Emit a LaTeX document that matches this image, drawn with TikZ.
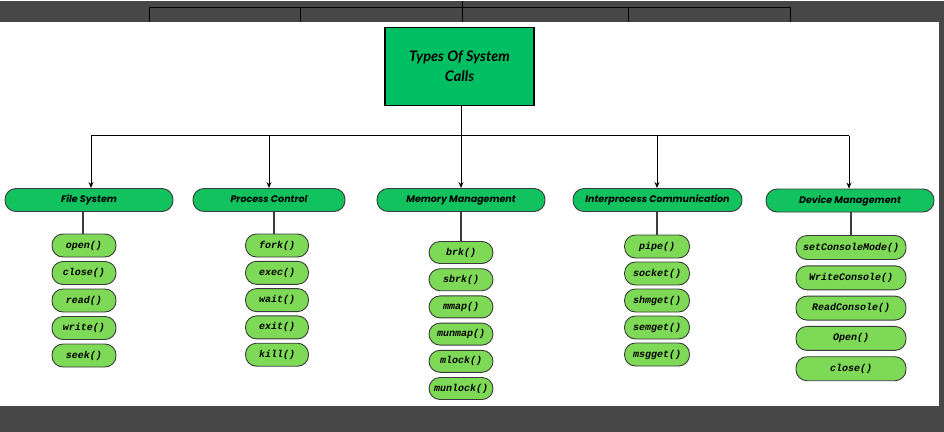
\documentclass[tikz,border=0pt]{standalone}
\usepackage{fontspec}
\newfontfamily\titlefont{Lato}
\newfontfamily\catfont{Poppins}
\newfontfamily\callfont{Liberation Mono}
\usetikzlibrary{arrows.meta}

\begin{document}
\begin{tikzpicture}[x=1pt,y=-1pt,
  every node/.style={inner sep=0pt},
  rootbox/.style={draw=black,line width=1.3pt,fill=rootgreen,minimum width=149pt,minimum height=78pt,align=center,
    font=\titlefont\bfseries\itshape\fontsize{14.5}{20}\selectfont},
  category/.style={draw=pillline,line width=0.9pt,fill=catgreen,rounded corners=11pt,minimum height=23pt,
    text height=6.8pt,text depth=1.6pt,font=\catfont\bfseries\itshape\fontsize{9.5}{10}\selectfont},
  call/.style={draw=pillline,line width=0.9pt,fill=callgreen,rounded corners=11pt,minimum height=23pt,
    font=\callfont\bfseries\itshape\fontsize{10}{10}\selectfont},
  bus/.style={line width=1pt,draw=black},
  stem/.style={line width=1.4pt,draw=stemgray}]
\definecolor{bandgray}{HTML}{474747}
\definecolor{rootgreen}{HTML}{00BF63}
\definecolor{catgreen}{HTML}{12C25E}
\definecolor{callgreen}{HTML}{7ED957}
\definecolor{pillline}{HTML}{3A3A3A}
\definecolor{stemgray}{HTML}{3C3C3C}
\fill[bandgray] (0,0) rectangle (944,431);
\fill[white] (0,21) rectangle (939,405);
\draw[bus] (462,0) -- (462,7);
\draw[bus] (149,21) -- (149,7) -- (790,7) -- (790,21);
\foreach \x in {300,462,628} \draw[bus] (\x,7) -- (\x,21);
\node[rootbox] (root) at (459.5,66) {Types Of System\\Calls};
\coordinate (bus1) at (91,135);
\coordinate (bus2) at (269,135);
\coordinate (bus3) at (461,135);
\coordinate (bus4) at (657,135);
\coordinate (bus5) at (849,135);
\node[category,minimum width=168pt] (fs) at (89,199.5) {File System};
\node[category,minimum width=152pt] (pc) at (269,199.5) {Process Control};
\node[category,minimum width=168pt] (mm) at (461,199.5) {Memory Management};
\node[category,minimum width=169pt] (ipc) at (657.5,199.5) {Interprocess Communication};
\node[category,minimum width=168pt] (dm) at (850,200) {Device Management};
\draw[bus] (bus3 |- root.south) -- (bus3);
\draw[bus] (bus1) -- (bus5);
\foreach \c [count=\i] in {fs,pc,mm,ipc,dm}
  \draw[bus,-{Stealth[length=6pt,width=5pt]}] (bus\i) -- (bus\i |- \c.north);
\foreach \t [count=\i] in {open(),close(),read(),write(),seek()}
  \node[call,minimum width=64pt] (fs\i) at (84,{245+27.5*(\i-1)}) {\t};
\foreach \t [count=\i] in {fork(),exec(),wait(),exit(),kill()}
  \node[call,minimum width=63pt] (pc\i) at (277,{245+27.3*(\i-1)}) {\t};
\foreach \t [count=\i] in {brk(),sbrk(),mmap(),munmap(),mlock(),munlock()}
  \node[call,minimum width=64pt,minimum height=22pt] (mm\i) at (461,{252+27.2*(\i-1)}) {\t};
\foreach \t [count=\i] in {pipe(),socket(),shmget(),semget(),msgget()}
  \node[call,minimum width=65pt] (ipc\i) at (657,{246+27*(\i-1)}) {\t};
\foreach \t [count=\i] in {setConsoleMode(),WriteConsole(),ReadConsole(),Open(),close()}
  \node[call,minimum width=110pt,minimum height=24pt] (dm\i) at (851,{247+30.3*(\i-1)}) {\t};
\draw[stem] (83,0 |- fs.south) -- (83,0 |- fs1.north);
\draw[stem] (274,0 |- pc.south) -- (274,0 |- pc1.north);
\draw[stem] (mm1.north |- mm.south) -- (mm1.north);
\draw[stem] (ipc1.north |- ipc.south) -- (ipc1.north);
\draw[stem] (dm1.north |- dm.south) -- (dm1.north);
\end{tikzpicture}
\end{document}
